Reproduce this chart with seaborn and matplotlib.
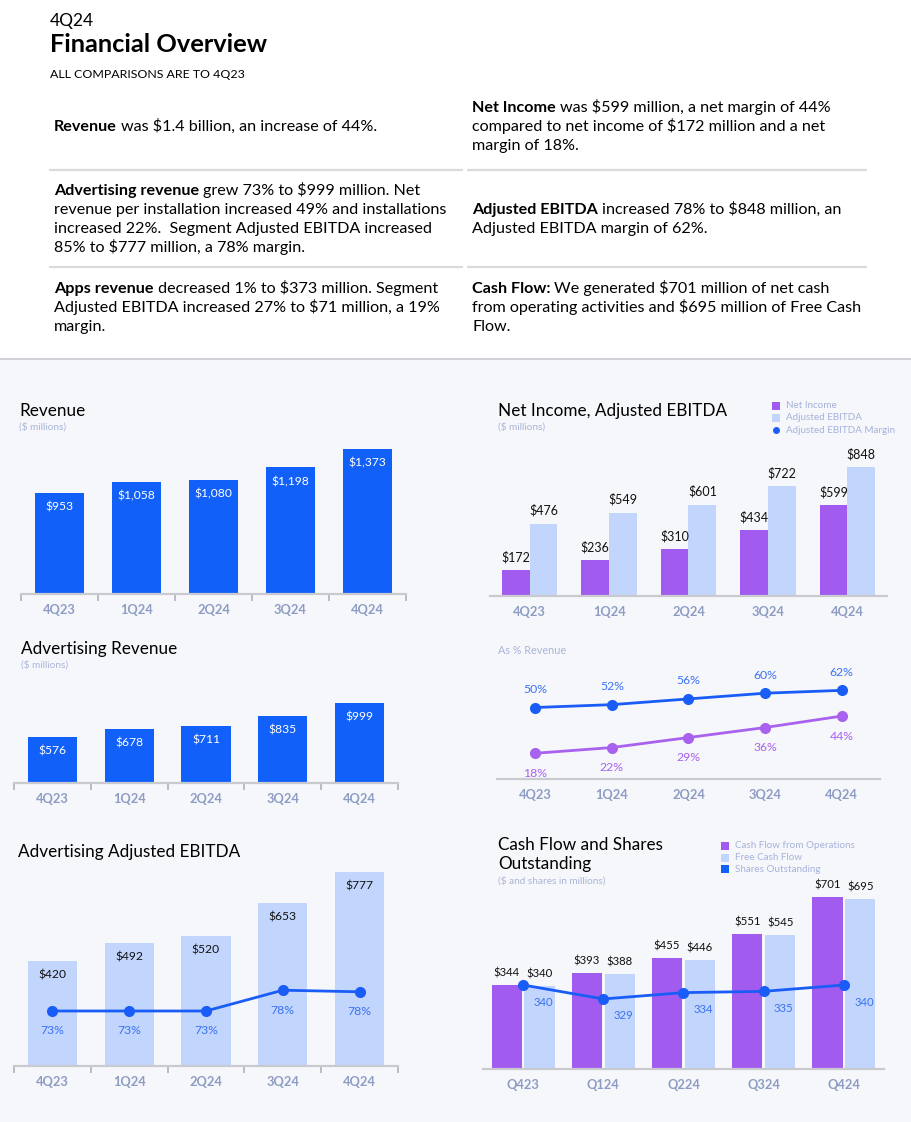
import numpy as np
import pandas as pd
import matplotlib
matplotlib.use("Agg")
import matplotlib.pyplot as plt
import seaborn as sns
from matplotlib.lines import Line2D
from matplotlib.patches import Rectangle

quarters = ["4Q23", "1Q24", "2Q24", "3Q24", "4Q24"]
cash_quarters = ["Q423", "Q124", "Q224", "Q324", "Q424"]
revenue = [953, 1058, 1080, 1198, 1373]
ad_revenue = [576, 678, 711, 835, 999]
ad_ebitda = [420, 492, 520, 653, 777]
ad_ebitda_margin = [73, 73, 73, 78.2, 77.8]
net_income = [172, 236, 310, 434, 599]
adj_ebitda = [476, 549, 601, 722, 848]
net_margin = [18, 22, 29, 36, 44]
adj_ebitda_margin = [50, 52, 56, 60, 62]
cfo = [344, 393, 455, 551, 701]
fcf = [340, 388, 446, 545, 695]
shares = [340, 329, 334, 335, 340]

BLUE = "#1260FA"
LIGHT = "#C2D5FD"
PURPLE = "#A15BEF"
LINE_BLUE = "#1A5DF6"
PCT_BLUE = "#3A72F3"
PCT_PURPLE = "#A862EE"
TICK = "#8D9CC3"
SUB = "#A9B5D9"
BG = "#F6F7FB"

sns.set_theme(style="white")
plt.rcParams["font.family"] = ["Lato", "DejaVu Sans"]

W, H = 912, 1122
fig = plt.figure(figsize=(W / 100, H / 100), dpi=100, facecolor=BG)
renderer = fig.canvas.get_renderer()


def box(x0, y0, x1, y1):
    return [x0 / W, 1 - y1 / H, (x1 - x0) / W, (y1 - y0) / H]


def ftext(x, y, s, **kw):
    kw.setdefault("va", "center")
    return fig.text(x / W, 1 - y / H, s, parse_math=False, **kw)


def hline(x0, x1, y, color, lw):
    fig.add_artist(Line2D([x0 / W, x1 / W], [1 - y / H, 1 - y / H],
                          transform=fig.transFigure, color=color, lw=lw))


# white header block
fig.add_artist(Rectangle((0, 1 - 359 / H), 1, 359 / H, transform=fig.transFigure,
                         facecolor="white", edgecolor="none", zorder=0))
hline(0, W, 359, "#C9C9CF", 1.2)

ftext(50, 21, "4Q24", fontsize=12.5, color="black")
ftext(50, 45, "Financial Overview", fontsize=18.3, fontweight="bold", color="black")
ftext(50, 75, "ALL COMPARISONS ARE TO 4Q23", fontsize=8.9, color="black")

BODY = 11.6


def paragraph(x, y, bold, lines, step=19):
    yb = y + 5
    t = ftext(x, yb, bold, fontsize=BODY, fontweight="bold", color="black",
              va="baseline")
    bb = t.get_window_extent(renderer)
    ftext(bb.x1 * W / fig.bbox.width + 4, yb, lines[0], fontsize=BODY,
          color="black", va="baseline")
    for k, ln in enumerate(lines[1:], start=1):
        ftext(x, yb + k * step, ln, fontsize=BODY, color="black", va="baseline")


paragraph(54, 126, "Revenue", ["was $1.4 billion, an increase of 44%."])
paragraph(54, 190, "Advertising revenue",
          ["grew 73% to $999 million. Net",
           "revenue per installation increased 49% and installations",
           "increased 22%.  Segment Adjusted EBITDA increased",
           "85% to $777 million, a 78% margin."])
paragraph(54, 288, "Apps revenue",
          ["decreased 1% to $373 million. Segment",
           "Adjusted EBITDA increased 27% to $71 million, a 19%",
           "margin."])
paragraph(472, 107, "Net Income",
          ["was $599 million, a net margin of 44%",
           "compared to net income of $172 million and a net",
           "margin of 18%."])
paragraph(472, 209, "Adjusted EBITDA",
          ["increased 78% to $848 million, an",
           "Adjusted EBITDA margin of 62%."])
paragraph(472, 288, "Cash Flow:",
          ["We generated $701 million of net cash",
           "from operating activities and $695 million of Free Cash",
           "Flow."])
for yy in (170, 267):
    hline(50, 462, yy, "#DADADA", 1.6)
    hline(468, 866, yy, "#DADADA", 1.6)


def style(ax, ymax, ticks):
    ax.set_xlim(-0.5, 4.5)
    ax.set_ylim(0, ymax)
    ax.set_facecolor("none")
    for s in ("top", "right", "left"):
        ax.spines[s].set_visible(False)
    ax.spines["bottom"].set_color("#C8CAD0")
    ax.spines["bottom"].set_linewidth(1.6)
    ax.set_yticks([])
    ax.set_xlabel("")
    ax.set_ylabel("")
    ax.tick_params(axis="x", which="major", length=0, pad=7, labelsize=9.3,
                   labelcolor=TICK)
    for lab in ax.get_xticklabels():
        lab.set_fontweight("bold")
    if ticks:
        ax.set_xticks(np.arange(-0.5, 5), minor=True)
        ax.tick_params(axis="x", which="minor", bottom=True, length=5, width=1.3,
                       color="#B3B6BD")


def label_bars(ax, container, values, fmt, dy, color, size=8.7, dx=0):
    for bar, v in zip(container, values):
        ax.annotate(fmt(v), (bar.get_x() + bar.get_width() / 2, bar.get_height()),
                    xytext=(dx, dy), textcoords="offset pixels", ha="center",
                    va="center", color=color, fontsize=size, parse_math=False)


def titles(x, y, title, sub=None, sub_y=None):
    ftext(x, y, title, fontsize=12.3, color="black")
    if sub:
        ftext(x, sub_y, sub, fontsize=7.2, color=SUB)


dollar = lambda v: f"${v:,}"

# Revenue
ax = fig.add_axes(box(21, 440, 406, 594))
sns.barplot(x=quarters, y=revenue, color=BLUE, width=0.64, saturation=1,
            linewidth=0, ax=ax)
style(ax, 154 / 0.1056, True)
label_bars(ax, ax.containers[0], revenue, dollar, -14, "white")
titles(19, 411, "Revenue", "($ millions)", 427)

# Advertising Revenue
ax = fig.add_axes(box(14, 690, 398, 783))
sns.barplot(x=quarters, y=ad_revenue, color=BLUE, width=0.64, saturation=1,
            linewidth=0, ax=ax)
style(ax, 93 / 0.08, True)
label_bars(ax, ax.containers[0], ad_revenue, dollar, -14, "white")
titles(21, 649, "Advertising Revenue", "($ millions)", 665)

# Advertising Adjusted EBITDA
ax = fig.add_axes(box(14, 865, 398, 1066))
sns.barplot(x=quarters, y=ad_ebitda, color=LIGHT, width=0.64, saturation=1,
            linewidth=0, ax=ax)
style(ax, 201 / 0.25, True)
label_bars(ax, ax.containers[0], ad_ebitda, dollar, -14, "#111111")
ax2 = ax.twinx()
sns.lineplot(x=quarters, y=ad_ebitda_margin, color=LINE_BLUE, marker="o",
             markersize=8, markeredgewidth=0, linewidth=2, sort=False, ax=ax2)
ax2.set_ylim(73 - 55 / 4, 73 + 146 / 4)
ax2.set_xlim(-0.5, 4.5)
ax2.axis("off")
for i, v in enumerate(ad_ebitda_margin):
    ax2.annotate(f"{round(v)}%", (i, v), xytext=(0, -20), textcoords="offset pixels",
                 ha="center", va="center", color=PCT_BLUE, fontsize=8.8)
titles(18, 852, "Advertising Adjusted EBITDA")

# Net Income, Adjusted EBITDA
ni = pd.DataFrame({"q": quarters * 2,
                   "series": ["Net Income"] * 5 + ["Adjusted EBITDA"] * 5,
                   "v": net_income + adj_ebitda})
ax = fig.add_axes(box(490, 455, 887, 596))
sns.barplot(data=ni, x="q", y="v", hue="series", width=0.7, saturation=1,
            palette={"Net Income": PURPLE, "Adjusted EBITDA": LIGHT},
            linewidth=0, legend=False, ax=ax)
style(ax, 141 / 0.152, False)
label_bars(ax, ax.containers[0], net_income, dollar, 13, "#111111", 9)
label_bars(ax, ax.containers[1], adj_ebitda, dollar, 13, "#111111", 9)
titles(498, 411, "Net Income, Adjusted EBITDA", "($ millions)", 427)


def legend_item(x, y, text, color, marker):
    fig.add_artist(Line2D([x / W], [1 - y / H], transform=fig.transFigure,
                          marker=marker, markersize=5.5 if marker == "s" else 5,
                          color=color, markeredgewidth=0, linestyle="none"))
    ftext(x + 10, y, text, fontsize=7.1, color="#A5B3DC")


legend_item(776, 406, "Net Income", PURPLE, "s")
legend_item(776, 418, "Adjusted EBITDA", LIGHT, "s")
legend_item(776, 430, "Adjusted EBITDA Margin", LINE_BLUE, "o")

# As % Revenue
mg = pd.DataFrame({"q": quarters * 2,
                   "series": ["adj"] * 5 + ["net"] * 5,
                   "v": adj_ebitda_margin + net_margin})
ax = fig.add_axes(box(497, 665, 880, 779))
sns.lineplot(data=mg, x="q", y="v", hue="series",
             palette={"adj": LINE_BLUE, "net": PCT_PURPLE}, marker="o",
             markersize=8, markeredgewidth=0, linewidth=2, sort=False,
             legend=False, ax=ax)
style(ax, 114 / 1.43, False)
for i, v in enumerate(adj_ebitda_margin):
    ax.annotate(f"{v}%", (i, v), xytext=(0, 18), textcoords="offset pixels",
                ha="center", va="center", color=PCT_BLUE, fontsize=8.8)
for i, v in enumerate(net_margin):
    ax.annotate(f"{v}%", (i, v), xytext=(0, -20), textcoords="offset pixels",
                ha="center", va="center", color=PCT_PURPLE, fontsize=8.8)
ftext(498, 651, "As % Revenue", fontsize=7.8, color=SUB)

# Cash Flow and Shares Outstanding
cf = pd.DataFrame({"q": cash_quarters * 2,
                   "series": ["Cash Flow from Operations"] * 5 + ["Free Cash Flow"] * 5,
                   "v": cfo + fcf})
ax = fig.add_axes(box(483, 880, 884, 1069))
sns.barplot(data=cf, x="q", y="v", hue="series", width=0.82, gap=0.08,
            saturation=1, linewidth=0, legend=False,
            palette={"Cash Flow from Operations": PURPLE, "Free Cash Flow": LIGHT},
            ax=ax)
style(ax, 189 / 0.245, False)
label_bars(ax, ax.containers[0], cfo, dollar, 12, "#111111", 8.2)
label_bars(ax, ax.containers[1], fcf, dollar, 12, "#111111", 8.2)
ax2 = ax.twinx()
sns.lineplot(x=cash_quarters, y=shares, color=LINE_BLUE, marker="o",
             markersize=8, markeredgewidth=0, linewidth=2, sort=False, ax=ax2)
ax2.set_ylim(340 - 84 / 1.27, 340 + 105 / 1.27)
ax2.set_xlim(-0.5, 4.5)
ax2.axis("off")
for i, v in enumerate(shares):
    ax2.annotate(f"{v}", (i, v), xytext=(20, -17), textcoords="offset pixels",
                 ha="center", va="center", color=PCT_BLUE, fontsize=8.2)
ftext(498, 845, "Cash Flow and Shares", fontsize=12.3, color="black")
ftext(498, 864, "Outstanding", fontsize=12.3, color="black")
ftext(498, 881, "($ and shares in millions)", fontsize=7.2, color=SUB)
legend_item(725, 846, "Cash Flow from Operations", PURPLE, "s")
legend_item(725, 858, "Free Cash Flow", LIGHT, "s")
legend_item(725, 869, "Shares Outstanding", BLUE, "s")

fig.savefig("out.png", dpi=100, facecolor=BG)
